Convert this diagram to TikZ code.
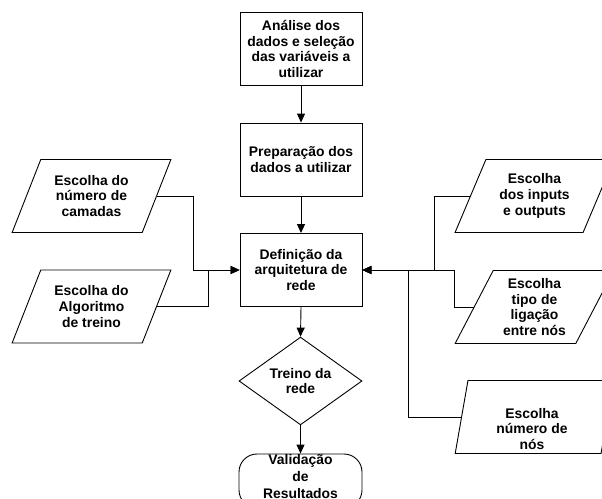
\documentclass[tikz,border=0pt]{standalone}
\usepackage{fontspec}
\setmainfont{Liberation Sans}
\usetikzlibrary{shapes.geometric,arrows.meta}
\begin{document}
\begin{tikzpicture}[x=1pt,y=-1pt,line width=0.9pt,
  every node/.style={font=\fontsize{13.9}{15.8}\selectfont\bfseries,align=center,inner sep=0pt},
  stepbox/.style={draw,rectangle,minimum width=122pt,minimum height=73pt},
  choice/.style={draw,trapezium,trapezium left angle=63.4,trapezium right angle=116.6,
    trapezium stretches=true,minimum width=159pt,minimum height=73pt},
  decision/.style={draw,diamond,minimum width=123pt,minimum height=72pt},
  terminal/.style={draw,rectangle,rounded corners=18pt,minimum width=123pt,minimum height=54pt},
  flow/.style={-{Triangle[length=9pt,width=8pt]}}]
\useasboundingbox (0,0) rectangle (602,498);
\clip (0,0) rectangle (602,498);

% main column
\node[stepbox] (ana) at (301,49) {Análise dos\\dados e seleção\\das variáveis a\\utilizar};
\node[stepbox] (prep) at (301,159.5) {Preparação dos\\dados a utilizar};
\node[stepbox] (def) at (301,270) {Definição da\\arquitetura de\\rede};
\node[decision] (treino) at (300.5,381) {Treino da\\rede};
\node[terminal] (val) at (300.5,481) {};
\node[font=\fontsize{13.9}{17}\selectfont\bfseries] (valtxt) at (300.5,477) {Validação\\de\\Resultados};

% choices on the left
\node[choice] (camadas) at (91.5,196) {Escolha do\\número de\\camadas};
\node[choice] (algo) at (91.5,306.5) {Escolha do\\Algoritmo\\de treino};

% choices on the right
\node[choice] (inputs) at (534.5,196) {Escolha\\dos inputs\\e outputs};
\node[choice] (ligacao) at (534.5,307) {Escolha\\tipo de\\ligação\\entre nós};
\node[choice] (nos) at (534.5,417) {\phantom{Escolha}};
\node (nostxt) at (532,429) {Escolha\\número de\\nós};

% junction points of the side connectors
\coordinate (jl1) at (193,270);
\coordinate (jl2) at (208,270);
\coordinate (jr1) at (434,270);
\coordinate (jr2) at (454,270);
\coordinate (jr3) at (408,270);

% main flow
\draw[flow] (ana.south) -- (prep.north);
\draw[flow] (prep.south) -- (def.north);
\draw[flow] (def.south) -- (treino.north);
\draw[flow] (treino.south) -- (val.north);

% side inputs
\draw[flow] (camadas.right side) -| (jl1) -- (def.west);
\draw[flow] (algo.right side) -| (jl2) -- (def.west);
\draw[flow] (inputs.left side) -| (jr1) -- (def.east);
\draw[flow] (ligacao.left side) -| (jr2) -- (def.east);
\draw[flow] (nos.left side) -| (jr3) -- (def.east);
\end{tikzpicture}
\end{document}
